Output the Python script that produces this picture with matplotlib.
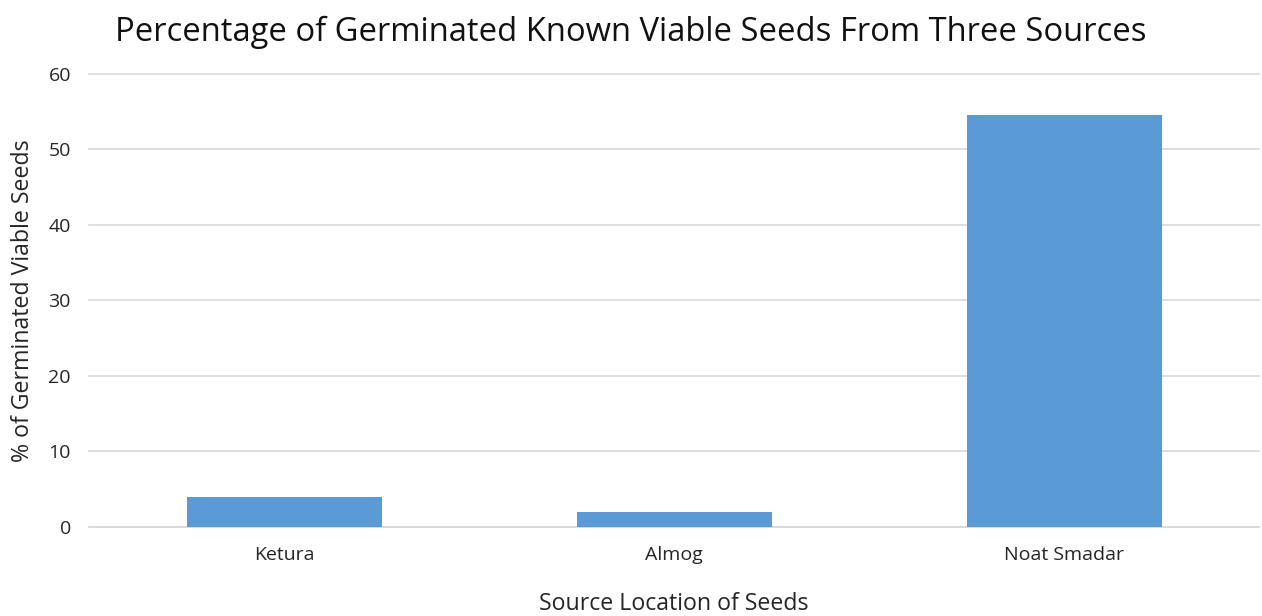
import matplotlib.pyplot as plt

sources = ["Ketura", "Almog", "Noat Smadar"]
germinated_pct = [4.0, 2.0, 54.6]
yticks = [0, 10, 20, 30, 40, 50, 60]

plt.rcParams['font.family'] = ['Open Sans', 'DejaVu Sans']

fig = plt.figure(figsize=(12.62, 6.16), dpi=100)
ax = fig.add_axes([0.0705, 0.1445, 0.9275, 0.7355])

ax.bar(sources, germinated_pct, width=0.5, color='#5b9bd5', zorder=3)

ax.set_ylim(0, 60)
ax.set_xlim(-0.5, 2.5)
ax.set_yticks(yticks)
ax.grid(axis='y', color='#d9d9d9', linewidth=1.2, zorder=0)
for gl in ax.get_ygridlines():
    gl.set_clip_on(False)
for side in ['top', 'right', 'left']:
    ax.spines[side].set_visible(False)
ax.spines['bottom'].set_color('#d9d9d9')
ax.spines['bottom'].set_linewidth(1.2)
ax.tick_params(axis='both', length=0, labelsize=14, colors='#262626')
ax.tick_params(axis='y', pad=13)
ax.tick_params(axis='x', pad=14)

ax.set_xlabel("Source Location of Seeds", fontsize=16.7, color='#262626', labelpad=20)
ax.set_ylabel("% of Germinated Viable Seeds", fontsize=16.7, color='#262626', labelpad=10)
fig.suptitle("Percentage of Germinated Known Viable Seeds From Three Sources",
             fontsize=23.6, color='#111111', y=0.975)

fig.savefig("out.png", dpi=100)
